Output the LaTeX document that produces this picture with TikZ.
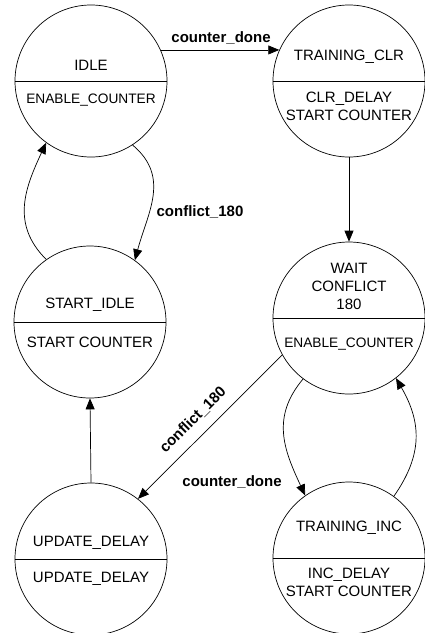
\documentclass[tikz,border=0pt]{standalone}
\usepackage{fontspec}
\setmainfont{Liberation Sans}
\usetikzlibrary{arrows.meta}
\begin{document}
\begin{tikzpicture}[x=1pt,y=1pt,
  state/.style={draw,circle,minimum size=152pt,inner sep=0pt,line width=0.7pt},
  txt/.style={font=\fontsize{15}{18}\selectfont,align=center,inner sep=0pt},
  smalltxt/.style={font=\fontsize{13.7}{18}\selectfont,align=center,inner sep=0pt},
  lbl/.style={font=\fontsize{15}{18}\selectfont\bfseries,inner sep=0pt},
  arr/.style={line width=0.7pt,-{Triangle[length=11pt,width=9pt]}},
  divider/.style={line width=0.7pt}]
\useasboundingbox (0,0) rectangle (424,-633);
% states
\node[state] (idle) at (91,-81) {};
\node[state] (clr) at (349,-81) {};
\node[state] (sidle) at (90,-322) {};
\node[state] (wait) at (349,-318) {};
\node[state] (upd) at (91,-559) {};
\node[state] (tinc) at (349,-558) {};
\foreach \n in {idle,clr,sidle,wait,upd,tinc}{\draw[divider] (\n.west) -- (\n.east);}
% texts
\node[txt] (t1) at (91,-65) {IDLE};
\node[smalltxt] (t2) at (91,-100) {ENABLE\_COUNTER};
\node[txt] (t3) at (349,-57) {TRAINING\_CLR};
\node[txt] (t4) at (349,-106) {CLR\_DELAY\\START COUNTER};
\node[txt] (t5) at (90,-305) {START\_IDLE};
\node[txt] (t6) at (90,-342) {START COUNTER};
\node[txt] (t7) at (349,-286) {WAIT\\CONFLICT\\180};
\node[smalltxt] (t8) at (349,-344) {ENABLE\_COUNTER};
\node[txt] (t9) at (91,-543) {UPDATE\_DELAY};
\node[txt] (t10) at (91,-579) {UPDATE\_DELAY};
\node[txt] (t11) at (349,-528) {TRAINING\_INC};
\node[txt] (t12) at (349,-582) {INC\_DELAY\\START COUNTER};
% transitions
\draw[arr] (idle.24) -- (clr.156);
\node[lbl] (l1) at (221,-38) {counter\_done};
\draw[arr] (clr.south) -- (wait.north);
\draw[arr] (idle.-57) to[out=-40,in=75,looseness=1.1] (sidle.54);
\node[lbl] (l2) at (200,-212) {conflict\_180};
\draw[arr] (sidle.125) to[out=135,in=-115,looseness=1.1] (idle.-126);
\draw[arr] (upd.north) -- (sidle.south);
\draw[arr] (wait.209) -- (upd.52);
\node[lbl,rotate=45] (l3) at (193,-420) {conflict\_180};
\draw[arr] (wait.-127) to[out=-130,in=115,looseness=1.1] (tinc.125);
\node[lbl] (l4) at (232,-482) {counter\_done};
\draw[arr] (tinc.54) to[out=55,in=-60,looseness=1.1] (wait.-52);
\end{tikzpicture}
\end{document}
